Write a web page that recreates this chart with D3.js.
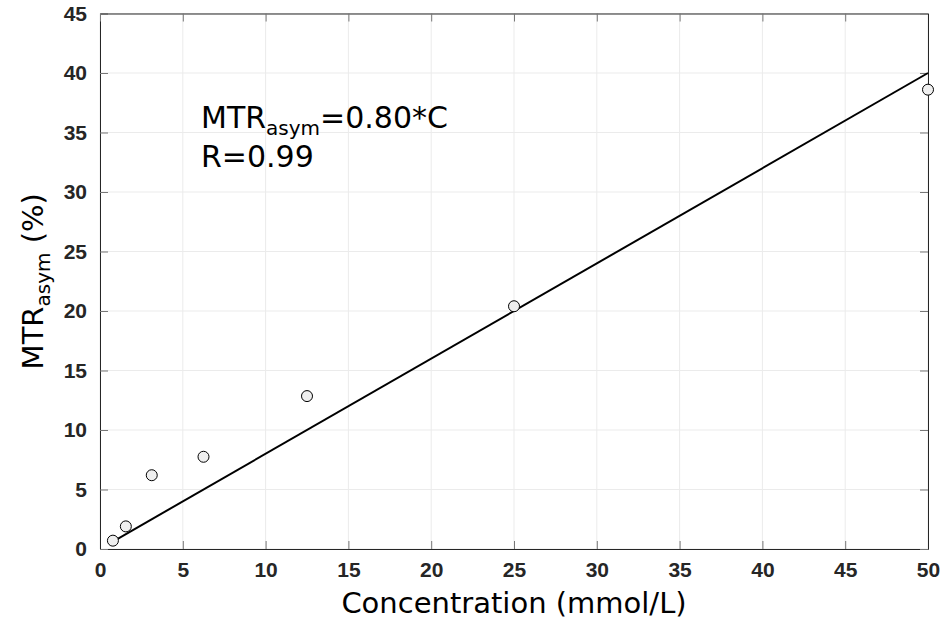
<!DOCTYPE html>
<html>
<head>
<meta charset="utf-8">
<script src="https://cdn.jsdelivr.net/npm/d3@7"></script>
<style>
  body { margin: 0; background: #fff; }
  svg { display: block; }
</style>
</head>
<body>
<div id="chart"></div>
<script>
// measured points
const conc = [0.78, 1.56, 3.125, 6.25, 12.5, 25, 50];
const mtr = [0.7, 1.9, 6.2, 7.75, 12.85, 20.4, 38.6];
const slope = 0.8;
const xTicks = [0, 5, 10, 15, 20, 25, 30, 35, 40, 45, 50];
const yTicks = [0, 5, 10, 15, 20, 25, 30, 35, 40, 45];

const W = 948, H = 620;
const margin = { top: 13.5, right: 20, bottom: 71, left: 100 };

const x = d3.scaleLinear().domain([0, 50]).range([margin.left, W - margin.right]);
const y = d3.scaleLinear().domain([0, 45]).range([H - margin.bottom, margin.top]);

const svg = d3.select('#chart').append('svg').attr('width', W).attr('height', H);

const axisCol = '#262626';
const tickLen = 8;

// grid
svg.append('g')
  .selectAll('line')
  .data(xTicks)
  .join('line')
  .attr('x1', d => x(d)).attr('x2', d => x(d))
  .attr('y1', y(0)).attr('y2', y(45))
  .attr('stroke', '#ebebeb').attr('stroke-width', 1);
svg.append('g')
  .selectAll('line')
  .data(yTicks)
  .join('line')
  .attr('y1', d => y(d)).attr('y2', d => y(d))
  .attr('x1', x(0)).attr('x2', x(50))
  .attr('stroke', '#ebebeb').attr('stroke-width', 1);

const styleTicks = g => g
  .call(g => g.selectAll('.domain').attr('stroke', axisCol))
  .call(g => g.selectAll('.tick line').attr('stroke', '#777'))
  .call(g => g.selectAll('text')
    .attr('fill', axisCol)
    .style('font-family', '"Liberation Sans", Arial, sans-serif')
    .style('font-weight', 'bold')
    .style('font-size', '21px'));

// axes with inner ticks
svg.append('g')
  .attr('transform', `translate(0,${y(0)})`)
  .call(d3.axisBottom(x).tickValues(xTicks).tickSizeInner(-tickLen).tickSizeOuter(0).tickPadding(13))
  .call(styleTicks);

svg.append('g')
  .attr('transform', `translate(${x(0)},0)`)
  .call(d3.axisLeft(y).tickValues(yTicks).tickSizeInner(-tickLen).tickSizeOuter(0).tickPadding(13))
  .call(styleTicks);

// top and right box with mirrored ticks
svg.append('g')
  .attr('transform', `translate(0,${y(45)})`)
  .call(d3.axisTop(x).tickValues(xTicks).tickSizeInner(-tickLen).tickSizeOuter(0).tickFormat(''))
  .call(styleTicks);
svg.append('g')
  .attr('transform', `translate(${x(50)},0)`)
  .call(d3.axisRight(y).tickValues(yTicks).tickSizeInner(-tickLen).tickSizeOuter(0).tickFormat(''))
  .call(styleTicks);

// fit line
const fitX = [conc[0], 50];
svg.append('path')
  .datum(fitX)
  .attr('fill', 'none')
  .attr('stroke', '#000')
  .attr('stroke-width', 2)
  .attr('d', d3.line().x(d => x(d)).y(d => y(slope * d)));

// points
svg.append('g')
  .selectAll('circle')
  .data(conc.map((c, i) => [c, mtr[i]]))
  .join('circle')
  .attr('cx', d => x(d[0]))
  .attr('cy', d => y(d[1]))
  .attr('r', 5.5)
  .attr('fill', '#efefef')
  .attr('stroke', '#000')
  .attr('stroke-width', 1);

// annotation
const font = 'DejaVu Sans, sans-serif';
const ann = svg.append('text')
  .attr('x', 201).attr('y', 128)
  .attr('font-family', font).attr('font-size', 30).attr('fill', '#000');
ann.append('tspan').text('MTR');
ann.append('tspan').attr('font-size', 20).attr('dy', 7).text('asym');
ann.append('tspan').attr('dy', -7).text('=0.80*C');
svg.append('text')
  .attr('x', 201).attr('y', 167)
  .attr('font-family', font).attr('font-size', 30).attr('fill', '#000')
  .text('R=0.99');

// axis titles
svg.append('text')
  .attr('x', (x(0) + x(50)) / 2).attr('y', 613)
  .attr('text-anchor', 'middle')
  .attr('font-family', font).attr('font-size', 29).attr('fill', '#000')
  .text('Concentration (mmol/L)');

const yl = svg.append('text')
  .attr('transform', `translate(43,${(y(0) + y(45)) / 2}) rotate(-90)`)
  .attr('text-anchor', 'middle')
  .attr('font-family', font).attr('font-size', 29).attr('fill', '#000');
yl.append('tspan').text('MTR');
yl.append('tspan').attr('font-size', 20).attr('dy', 7).text('asym');
yl.append('tspan').attr('dy', -7).text(' (%)');
</script>
</body>
</html>
